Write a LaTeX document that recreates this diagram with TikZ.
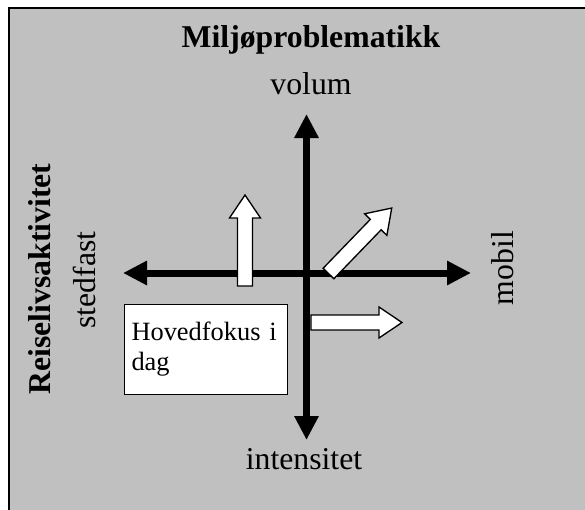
\documentclass[tikz,border=0pt]{standalone}
\usepackage{fontspec}
\setmainfont{Liberation Serif}
\usetikzlibrary{arrows.meta}

\definecolor{panelgray}{HTML}{C0C0C0}

\tikzset{
  bigtip/.tip={Triangle[length=18pt,width=17.25pt]},
  axisline/.style={line width=5.25pt, bigtip-bigtip},
  axislabel/.style={inner sep=0pt, anchor=base, font=\fontsize{23.8}{28}\selectfont},
  boldlabel/.style={inner sep=0pt, anchor=base, font=\fontsize{23.8}{28}\selectfont\bfseries},
  pics/blockarrow/.style={code={
    \draw[fill=white, line width=1pt, line join=miter]
      (0,-7.5) -- (68,-7.5) -- (68,-15.5) -- (91,0) -- (68,15.5) -- (68,7.5) -- (0,7.5) -- cycle;
  }}
}

\begin{document}
\begin{tikzpicture}[x=0.75pt,y=-0.75pt]
  \useasboundingbox (0,0) rectangle (585,510);

  % panel
  \fill[panelgray] (8.5,8.5) rectangle (585,510);
  \draw[line width=1.5pt] (8.5,510) -- (8.5,8.5) -- (585,8.5);

  % labels
  \node[boldlabel] (title) at (311,48) {Miljøproblematikk};
  \node[axislabel] (volum) at (311,94) {volum};
  \node[axislabel] (intensitet) at (304,469) {intensitet};
  \node[axislabel, rotate=90] (stedfast) at (95,280) {stedfast};
  \node[boldlabel, rotate=90] (reiseliv) at (50,279) {Reiselivsaktivitet};
  \node[axislabel, rotate=90] (mobil) at (513,268) {mobil};

  % axes
  \coordinate (west) at (123,273);
  \coordinate (east) at (471,273);
  \coordinate (north) at (306.5,114);
  \coordinate (south) at (306.5,440);
  \draw[axisline] (west) -- (east);
  \draw[axisline] (south) -- (north);

  % focus box
  \node[draw, fill=white, line width=0.75pt, anchor=north west,
        minimum width=122.25pt, minimum height=67.5pt, inner xsep=5.25pt,
        text width=111.75pt, align=left, font=\fontsize{19.8}{22.5}\selectfont]
        (focus) at (124,304) {Hovedfokus i\\dag};

  % block arrows
  \pic (up) [rotate=90] at (245,286) {blockarrow};
  \pic (diag) [rotate=46] at (328.5,273.5) {blockarrow};
  \pic (right) at (311,322.5) {blockarrow};
\end{tikzpicture}
\end{document}
